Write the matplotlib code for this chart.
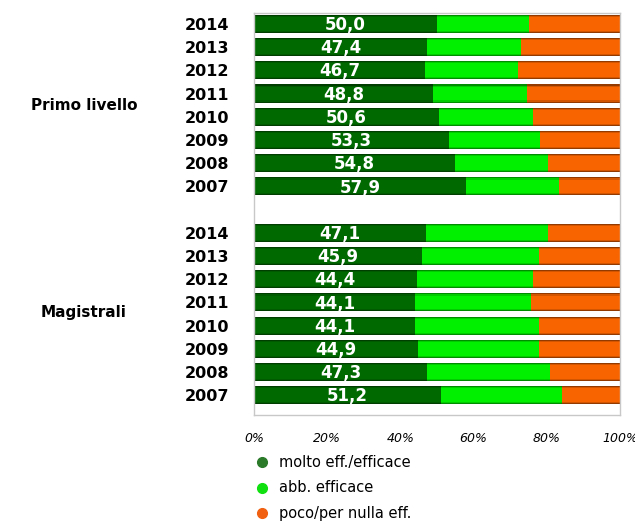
import matplotlib
matplotlib.use("Agg")
import matplotlib.pyplot as plt
from matplotlib.lines import Line2D
import numpy as np

years = ["2014", "2013", "2012", "2011", "2010", "2009", "2008", "2007"]
groups = ["Primo livello", "Magistrali"]
primo_molto = [50.0, 47.4, 46.7, 48.8, 50.6, 53.3, 54.8, 57.9]
primo_abb = [25.2, 25.6, 25.4, 25.9, 25.7, 24.8, 25.5, 25.5]
mag_molto = [47.1, 45.9, 44.4, 44.1, 44.1, 44.9, 47.3, 51.2]
mag_abb = [33.2, 32.1, 31.9, 31.7, 33.9, 33.1, 33.6, 33.0]
series_labels = ["molto eff./efficace", "abb. efficace", "poco/per nulla eff."]
colors = ["#006a00", "#00f000", "#f86400"]
legend_colors = ["#2a7a2a", "#10e010", "#f06010"]
xticks = [0, 20, 40, 60, 80, 100]

fig = plt.figure(figsize=(6.35, 5.21), dpi=100)
ax = fig.add_axes([254/635, 1-415/521, 366/635, 402/521])

molto = np.array(primo_molto + mag_molto)
abb = np.array(primo_abb + mag_abb)
poco = 100 - molto - abb
ypos = np.array(list(range(8)) + list(range(9, 17)))
h = 0.78

ax.barh(ypos, molto, height=h, color=colors[0], edgecolor="none")
ax.barh(ypos, abb, left=molto, height=h, color=colors[1], edgecolor="none")
ax.barh(ypos, poco, left=molto + abb, height=h, color=colors[2], edgecolor="none")

# subtle shading near the top and bottom of each bar
for frac, a in [(0.06, 0.30), (0.12, 0.15)]:
    ax.barh(ypos - h / 2 + frac / 2 * h, 100, height=frac * h, color="black", alpha=a,
            edgecolor="none")
    ax.barh(ypos + h / 2 - frac / 2 * h, 100, height=frac * h, color="black", alpha=a,
            edgecolor="none")

for y, m in zip(ypos, molto):
    ax.text(m / 2, y + 0.05, f"{m:.1f}".replace(".", ","), ha="center", va="center",
            color="white", fontsize=12, fontweight="bold")

ax.set_xlim(0, 100)
ax.set_ylim(16.85, -0.47)
ax.set_yticks(ypos)
ax.set_yticklabels(years + years, fontsize=11.5, fontweight="bold")
ax.tick_params(axis="y", length=0, pad=18)
ax.set_xticks(xticks)
ax.set_xticklabels([f"{t}%" for t in xticks], fontsize=9, style="italic")
ax.tick_params(axis="x", length=0, pad=12)
for s in ax.spines.values():
    s.set_color("#c8c8c8")
    s.set_linewidth(1)

fig.text(84/635, 1-105/521, groups[0], ha="center", va="center", fontsize=11, fontweight="bold")
fig.text(84/635, 1-313/521, groups[1], ha="center", va="center", fontsize=11, fontweight="bold")

for i, (lab, c) in enumerate(zip(series_labels, legend_colors)):
    yy = 1 - (462 + i * 25.7) / 521
    fig.add_artist(Line2D([262/635], [yy], marker="o", markersize=7, color=c,
                          markeredgecolor=c, transform=fig.transFigure))
    fig.text(279/635, yy, lab, ha="left", va="center", fontsize=10.5)

fig.savefig("out.png", dpi=100)
